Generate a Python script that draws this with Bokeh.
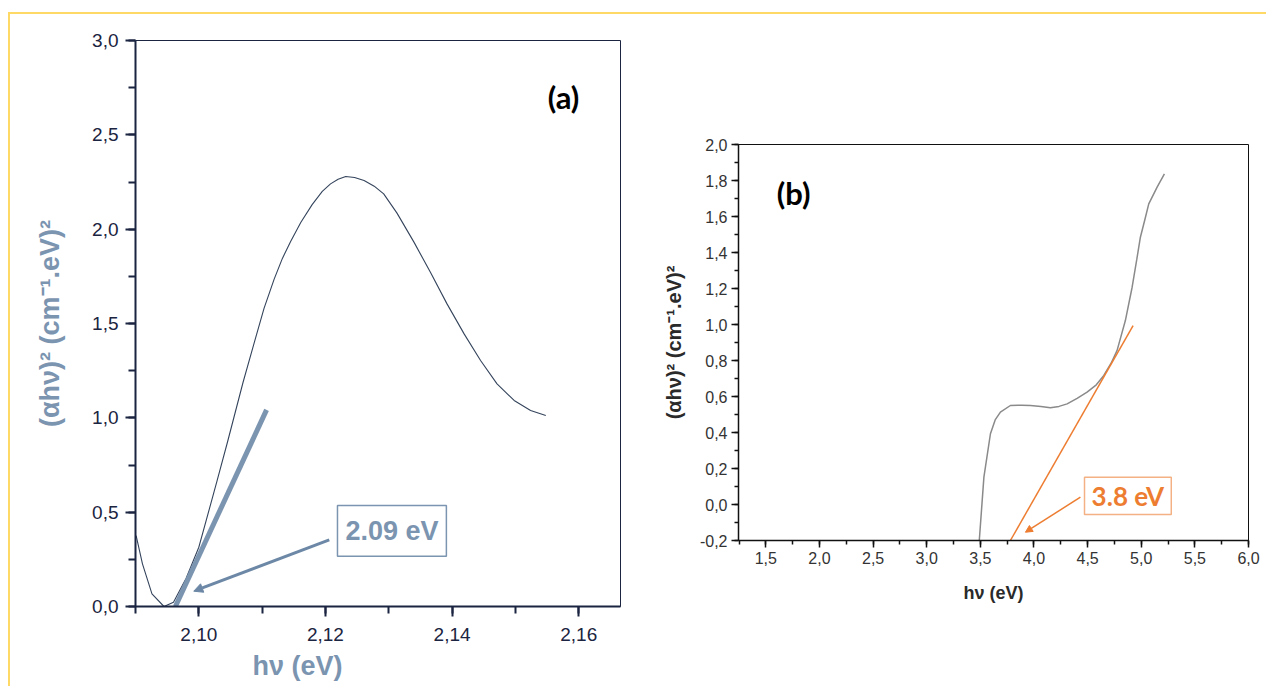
from bokeh.plotting import figure
from bokeh.layouts import row, column
from bokeh.models import (Range1d, SingleIntervalTicker, CustomJSTickFormatter, Label,
                          BoxAnnotation, Arrow, NormalHead, Title)
from bokeh.embed import file_html
from bokeh.resources import INLINE

# ---------------- data: panel (a) ----------------
a_x = [2.0901, 2.0911, 2.0926, 2.0945, 2.0960, 2.0980, 2.1000, 2.1029, 2.1045, 2.1070,
       2.1087, 2.1103, 2.1119, 2.1132, 2.1145, 2.1161, 2.1179, 2.1195, 2.1208, 2.1220,
       2.1232, 2.1246, 2.1261, 2.1277, 2.1292, 2.1313, 2.1340, 2.1366, 2.1392, 2.1419,
       2.1445, 2.1471, 2.1498, 2.1524, 2.1548]
a_y = [0.376, 0.226, 0.067, 0.0, 0.023, 0.15, 0.314, 0.668, 0.868, 1.19,
       1.392, 1.58, 1.735, 1.845, 1.935, 2.035, 2.13, 2.20, 2.24, 2.265,
       2.279, 2.274, 2.258, 2.228, 2.187, 2.085, 1.93, 1.77, 1.604, 1.445,
       1.304, 1.180, 1.092, 1.039, 1.012]
a_tangent_x = [2.0963, 2.1107]
a_tangent_y = [0.0, 1.042]
a_arrow = dict(x_start=2.1206, y_start=0.353, x_end=2.0992, y_end=0.081)
a_box = dict(left=2.1219, right=2.1391, top=0.535, bottom=0.267)
a_gap_label = "2.09 eV"

# ---------------- data: panel (b) ----------------
b_x = [3.490, 3.533, 3.594, 3.638, 3.687, 3.780, 3.886, 3.967, 4.065, 4.153, 4.233, 4.309,
       4.402, 4.495, 4.581, 4.651, 4.719, 4.775, 4.852, 4.915, 4.958, 4.992, 5.037, 5.070,
       5.148, 5.216]
b_y = [-0.2, 0.152, 0.393, 0.47, 0.513, 0.55, 0.552, 0.55, 0.545, 0.537, 0.545, 0.559,
       0.59, 0.624, 0.665, 0.717, 0.785, 0.856, 1.022, 1.207, 1.36, 1.485, 1.59, 1.670,
       1.763, 1.837]
b_tangent_x = [3.780, 4.924]
b_tangent_y = [-0.2, 0.994]
b_arrow = dict(x_start=4.433, y_start=0.041, x_end=3.920, y_end=-0.154)
b_box = dict(left=4.471, right=5.280, top=0.152, bottom=-0.056)
b_gap_label = "3.8 eV"

y_label = "(\u03b1h\u03bd)\u00b2 (cm\u207b\u00b9.eV)\u00b2"
x_label = "h\u03bd (eV)"

STEEL = "#7b94b0"
NAVY = "#1b2440"
ORANGE = "#ED7D31"
YELLOW = "#FFD966"

# ---------------- panel (a) ----------------
p1 = figure(width=630, height=672, x_range=Range1d(2.0900, 2.1666), y_range=Range1d(0, 3.0),
            output_backend="svg", toolbar_location=None,
            min_border_left=125, min_border_right=20, min_border_top=26, min_border_bottom=80)
p1.grid.visible = False
p1.outline_line_color = NAVY
p1.outline_line_width = 1

p1.xaxis.ticker = SingleIntervalTicker(interval=0.02, num_minor_ticks=2)
p1.yaxis.ticker = SingleIntervalTicker(interval=0.5, num_minor_ticks=2)
p1.xaxis.formatter = CustomJSTickFormatter(code="return tick.toFixed(2).replace('.', ',');")
p1.yaxis.formatter = CustomJSTickFormatter(code="return tick.toFixed(1).replace('.', ',');")
for ax in (p1.xaxis, p1.yaxis):
    ax.axis_line_color = NAVY
    ax.axis_line_width = 2
    ax.major_tick_line_color = NAVY
    ax.minor_tick_line_color = NAVY
    ax.major_tick_line_width = 2
    ax.minor_tick_line_width = 2
    ax.major_tick_out = 10
    ax.major_tick_in = 0
    ax.minor_tick_out = 7
    ax.minor_tick_in = 0
    ax.major_label_text_font = "Liberation Sans"
    ax.major_label_text_font_size = "19px"
    ax.major_label_text_color = NAVY
p1.xaxis.major_label_standoff = 11
p1.yaxis.major_label_standoff = 7
p1.yaxis.axis_label = y_label
p1.yaxis.axis_label_text_font = "Liberation Sans"
p1.yaxis.axis_label_text_font_style = "bold"
p1.yaxis.axis_label_text_font_size = "27px"
p1.yaxis.axis_label_text_color = STEEL
p1.yaxis.axis_label_standoff = 24

# x-axis label of panel (a) sits left of centre: a title placed below
p1.add_layout(Title(text=x_label, align="left", offset=117, text_font="Liberation Sans",
                    text_font_style="bold", text_font_size="27px", text_color=STEEL,
                    standoff=10), "below")

p1.line(a_x, a_y, line_color="#34445c", line_width=1.1)
p1.line(a_tangent_x, a_tangent_y, line_color=STEEL, line_width=5)
p1.add_layout(Arrow(end=NormalHead(size=9, fill_color="#6c88a6", line_color="#6c88a6"),
                    line_color="#6c88a6", line_width=3, **a_arrow))
p1.add_layout(BoxAnnotation(fill_color="white", fill_alpha=1, line_color=STEEL,
                            line_width=1.5, line_alpha=1, **a_box))
p1.add_layout(Label(x=(a_box["left"] + a_box["right"]) / 2, y=(a_box["top"] + a_box["bottom"]) / 2,
                    text=a_gap_label, text_align="center", text_baseline="middle",
                    text_font="Liberation Sans", text_font_style="bold", text_font_size="27px",
                    text_color=STEEL))
p1.add_layout(Label(x=2.1576, y=2.703, text="(a)", text_align="center", text_baseline="middle",
                    text_font="Lato", text_font_style="bold", text_font_size="31px",
                    text_color="black"))

# ---------------- panel (b) ----------------
p2 = figure(width=626, height=672, x_range=Range1d(1.245, 6.0), y_range=Range1d(-0.2, 2.0),
            output_backend="svg", toolbar_location=None,
            min_border_left=98, min_border_right=18, min_border_top=130, min_border_bottom=146)
p2.grid.visible = False
p2.outline_line_color = "#111111"
p2.outline_line_width = 1
p2.xaxis.ticker = SingleIntervalTicker(interval=0.5, num_minor_ticks=2)
p2.yaxis.ticker = SingleIntervalTicker(interval=0.2, num_minor_ticks=2)
p2.xaxis.formatter = CustomJSTickFormatter(code="return tick.toFixed(1).replace('.', ',');")
p2.yaxis.formatter = CustomJSTickFormatter(code="return tick.toFixed(1).replace('.', ',');")
for ax in (p2.xaxis, p2.yaxis):
    ax.axis_line_color = "#111111"
    ax.axis_line_width = 1.5
    ax.major_tick_line_color = "#111111"
    ax.minor_tick_line_color = "#111111"
    ax.major_tick_line_width = 1.5
    ax.minor_tick_line_width = 1.5
    ax.major_tick_out = 7
    ax.major_tick_in = 0
    ax.minor_tick_out = 4
    ax.minor_tick_in = 0
    ax.major_label_text_font = "Liberation Sans"
    ax.major_label_text_font_size = "16px"
    ax.major_label_text_color = "#333333"
    ax.major_label_standoff = 4
    ax.axis_label_text_font = "Liberation Sans"
    ax.axis_label_text_font_style = "bold"
    ax.axis_label_text_color = "#2a2a2a"
p2.xaxis.axis_label = x_label
p2.xaxis.axis_label_text_font_size = "18px"
p2.xaxis.axis_label_standoff = 16
p2.yaxis.axis_label = y_label
p2.yaxis.axis_label_text_font_size = "20px"
p2.yaxis.axis_label_standoff = 12

p2.line(b_x, b_y, line_color="#8a8a8a", line_width=1.5)
p2.line(b_tangent_x, b_tangent_y, line_color=ORANGE, line_width=1.5)
p2.add_layout(Arrow(end=NormalHead(size=7, fill_color=ORANGE, line_color=ORANGE),
                    line_color=ORANGE, line_width=1.5, **b_arrow))
p2.add_layout(BoxAnnotation(fill_color="white", fill_alpha=1, line_color="#F4B183",
                            line_width=1.5, line_alpha=1, **b_box))
p2.add_layout(Label(x=(b_box["left"] + b_box["right"]) / 2, y=(b_box["top"] + b_box["bottom"]) / 2,
                    text=b_gap_label, text_align="center", text_baseline="middle",
                    text_font="Lato", text_font_style="bold", text_font_size="26px",
                    text_color=ORANGE))
p2.add_layout(Label(x=1.758, y=1.728, text="(b)", text_align="center", text_baseline="middle",
                    text_font="Lato", text_font_style="bold", text_font_size="31px",
                    text_color="black"))

layout = row(column(p1), column(p2),
             styles={"border-top": "2px solid " + YELLOW, "border-left": "2px solid " + YELLOW,
                     "margin-left": "8px", "margin-top": "12px"})
open("out.html", "w").write(file_html(layout, INLINE))
